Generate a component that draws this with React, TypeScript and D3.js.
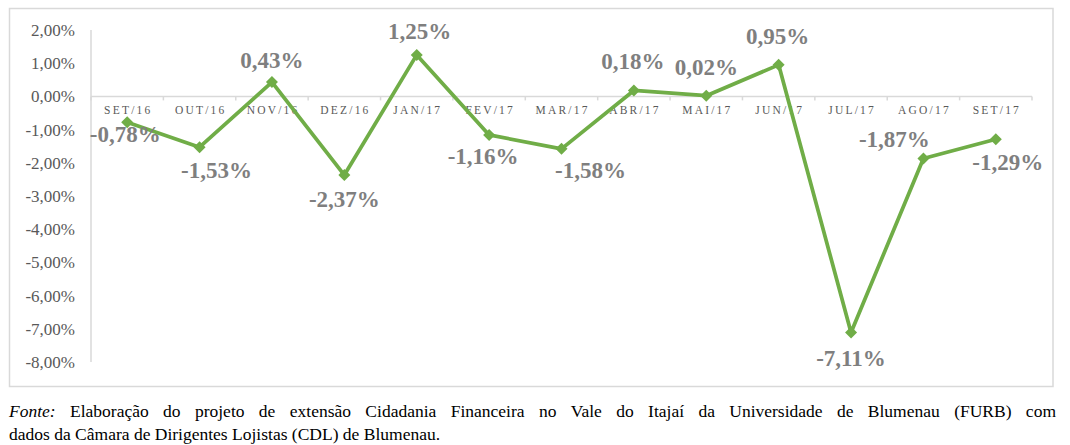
import React, { useEffect, useRef } from 'react';
import * as d3 from 'd3';

const months = ['SET/16', 'OUT/16', 'NOV/16', 'DEZ/16', 'JAN/17', 'FEV/17', 'MAR/17', 'ABR/17', 'MAI/17', 'JUN/17', 'JUL/17', 'AGO/17', 'SET/17'];
const variation = [-0.78, -1.53, 0.43, -2.37, 1.25, -1.16, -1.58, 0.18, 0.02, 0.95, -7.11, -1.87, -1.29];
const yTicks = [2, 1, 0, -1, -2, -3, -4, -5, -6, -7, -8];

// manual label placement, as in the source chart (px from the point)
const labelDx = [-2, 17, 0, 0, 3, -6, 29, -1, 0, -1, 0, -29, 12];
const labelDy = [20, 31, -14, 32, -16, 29, 29, -21, -21, -21, 34, -11, 31];

const captionLine1 = ['Elaboração', 'do', 'projeto', 'de', 'extensão', 'Cidadania', 'Financeira', 'no', 'Vale', 'do', 'Itajaí', 'da', 'Universidade', 'de', 'Blumenau', '(FURB)', 'com'];
const captionLine2 = 'dados da Câmara de Dirigentes Lojistas (CDL) de Blumenau.';

const fmt = (v: number) => v.toFixed(2).replace('.', ',') + '%';

const App = () => {
  const chartRef = useRef<SVGSVGElement>(null);

  useEffect(() => {
    drawChart();
  }, []);

  const drawChart = () => {
    const width = 1070;
    const height = 445;
    const serif = '"Liberation Serif", "DejaVu Serif", "Times New Roman", Times, serif';
    const green = '#70AD47';
    const axisGrey = '#d9d9d9';

    const svg = d3.select(chartRef.current);
    svg.selectAll('*').remove();
    svg.attr('width', width)
      .attr('height', height)
      .attr('viewBox', [0, 0, width, height])
      .attr('style', 'position: absolute; left: 0; top: 0; background: white;');

    const x = d3.scaleBand().domain(months).range([91, 1032]).padding(0);
    const y = d3.scaleLinear().domain([-8, 2]).range([362, 30]);

    // chart frame
    svg.append('rect')
      .attr('x', 9.5)
      .attr('y', 8.5)
      .attr('width', 1043.5)
      .attr('height', 378)
      .attr('fill', 'white')
      .attr('stroke', axisGrey)
      .attr('stroke-width', 1.5);

    // y axis line
    svg.append('line')
      .attr('x1', 91).attr('x2', 91)
      .attr('y1', y(2)).attr('y2', y(-8))
      .attr('stroke', axisGrey)
      .attr('stroke-width', 1.5);

    svg.append('g')
      .selectAll()
      .data(yTicks)
      .join('text')
      .attr('x', 75)
      .attr('y', d => y(d) + 6)
      .attr('text-anchor', 'end')
      .style('font-family', serif)
      .attr('font-size', 17)
      .attr('fill', '#595959')
      .text(d => fmt(d));

    // zero line with category ticks
    const y0 = y(0);
    svg.append('line')
      .attr('x1', 91).attr('x2', 1032)
      .attr('y1', y0).attr('y2', y0)
      .attr('stroke', axisGrey)
      .attr('stroke-width', 1.5);

    const boundaries = months.map(m => x(m) as number).concat([x.range()[1]]);
    svg.append('g')
      .selectAll()
      .data(boundaries)
      .join('line')
      .attr('x1', d => d).attr('x2', d => d)
      .attr('y1', y0).attr('y2', y0 + 4)
      .attr('stroke', axisGrey)
      .attr('stroke-width', 1.5);

    svg.append('g')
      .selectAll()
      .data(months)
      .join('text')
      .attr('x', d => (x(d) as number) + x.bandwidth() / 2 + 1.1)
      .attr('y', 114)
      .attr('text-anchor', 'middle')
      .style('font-family', serif)
      .attr('font-size', 11.5)
      .attr('letter-spacing', 2.2)
      .attr('fill', '#595959')
      .text(d => d);

    const cx = (i: number) => (x(months[i]) as number) + x.bandwidth() / 2;

    const line = d3.line<number>()
      .x((d, i) => cx(i))
      .y(d => y(d));

    svg.append('path')
      .datum(variation)
      .attr('d', line)
      .attr('fill', 'none')
      .attr('stroke', green)
      .attr('stroke-width', 3.75)
      .attr('stroke-linejoin', 'round');

    const diamond = d3.symbol().type(d3.symbolSquare).size(72);
    svg.append('g')
      .selectAll()
      .data(variation)
      .join('path')
      .attr('d', diamond as any)
      .attr('transform', (d, i) => `translate(${cx(i)},${y(d)}) rotate(45)`)
      .attr('fill', green);

    svg.append('g')
      .selectAll()
      .data(variation)
      .join('text')
      .attr('x', (d, i) => cx(i) + labelDx[i])
      .attr('y', (d, i) => y(d) + labelDy[i])
      .attr('text-anchor', 'middle')
      .style('font-family', serif)
      .attr('font-weight', 'bold')
      .attr('font-size', 23)
      .attr('fill', '#7f7f7f')
      .text(d => fmt(d));

    // source note, first line justified
    const left = 9;
    const right = 1056;
    const capSize = 17.5;
    const words = svg.append('g')
      .style('font-family', serif)
      .attr('font-size', capSize)
      .attr('fill', 'black');

    const items = ['Fonte:', ...captionLine1];
    const nodes = items.map((w, i) => words.append('text')
      .attr('y', 417)
      .attr('font-style', i === 0 ? 'italic' : 'normal')
      .text(w));
    const widths = nodes.map(n => (n.node() as SVGTextElement).getComputedTextLength());
    const gap = (right - left - d3.sum(widths)) / (items.length - 1);
    let pos = left;
    nodes.forEach((n, i) => {
      n.attr('x', pos);
      pos += widths[i] + gap;
    });

    words.append('text')
      .attr('x', left)
      .attr('y', 440)
      .text(captionLine2);
  };

  return <svg ref={chartRef}></svg>;
};

export default App;
